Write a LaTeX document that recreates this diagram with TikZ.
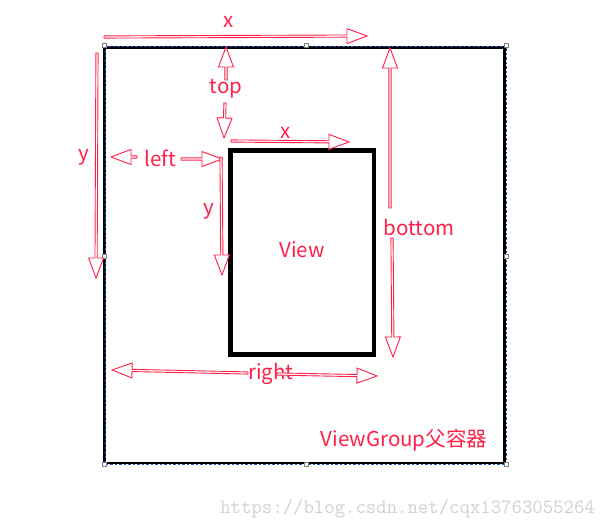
\documentclass[tikz,border=0pt]{standalone}
\usepackage{fontspec}
\newfontfamily\cjk{Noto Sans CJK SC}
\usetikzlibrary{calc}
\definecolor{arrred}{RGB}{255,32,72}
\definecolor{selblue}{RGB}{30,90,200}
\newcommand\blkarrow[2]{%
  \draw[blk] let \p1=($(#2)-(#1)$), \n1={atan2(\y1,\x1)}, \n2={veclen(\x1,\y1)} in
    [shift={(#1)},rotate=\n1]
    (0pt,-1.1pt) -- ({\n2-20},-1.1pt) -- ({\n2-20},-7.5pt) -- (\n2,0pt)
    -- ({\n2-20},7.5pt) -- ({\n2-20},1.1pt) -- (0pt,1.1pt) -- cycle;}
\begin{document}
\begin{tikzpicture}[x=1pt,y=-1pt,
  lbl/.style={text=arrred,font=\cjk\fontsize{20.5}{22}\selectfont,inner sep=0pt},
  blk/.style={draw=arrred,fill=white,line width=0.9pt,line join=miter},
  handle/.style={draw=gray,fill=white,line width=0.5pt,minimum size=4pt,inner sep=0pt}]
\useasboundingbox (0,0) rectangle (605,529);
% outer container
\draw[line width=2.2pt] (104.5,47.5) rectangle (504.5,463);
\draw[selblue,line width=0.8pt,dash pattern=on 2.5pt off 2pt] (105.8,46) rectangle (506.6,464.4);
\foreach \p/\q in {104/45.5,306/45.5,506.6/45.5,104/256,506.6/256,104/464.4,306/464.4,506.6/464.4}
  \node[handle] at (\p,\q) {};
% inner view
\draw[line width=4.5pt] (230.5,150.5) rectangle (374,354.5);
\node[lbl] (view) at (302,250) {View};
% labels
\node[lbl] (x1) at (229,22) {x};
\node[lbl] (y1) at (84,157) {y};
\node[lbl] (top) at (226,89) {top};
\node[lbl] (x2) at (286,133) {x};
\node[lbl] (left) at (160,158) {left};
\node[lbl] (y2) at (209,211) {y};
\node[lbl] (bottom) at (419,227) {bottom};
\node[lbl] (right) at (271,374) {right};
\node[lbl] (vg) at (404,440) {ViewGroup父容器};
\node[text=black!18,font=\ttfamily\fontsize{20.2}{22}\selectfont,inner sep=0pt,anchor=east] (wm) at (595,509) {https://blog.csdn.net/cqx13763055264};
% arrow endpoints
\coordinate (x1s) at (104,37); \coordinate (x1e) at (367,36);
\coordinate (y1s) at (97,53); \coordinate (y1e) at (96,278);
\coordinate (tops1) at (226,80); \coordinate (topu) at (226,47);
\coordinate (tops2) at (225,103); \coordinate (topd) at (224,138);
\coordinate (x2s) at (231,141); \coordinate (x2e) at (349,142);
\coordinate (lefts1) at (137,157); \coordinate (leftl) at (111,157);
\coordinate (lefts2) at (181,159); \coordinate (leftr) at (222,159);
\coordinate (y2s) at (221,157); \coordinate (y2e) at (222,275);
\coordinate (bots1) at (390,208); \coordinate (botu) at (390,48);
\coordinate (bots2) at (392,238); \coordinate (botd) at (393,357);
\coordinate (rights1) at (248,373); \coordinate (rightl) at (112,370);
\coordinate (rights2) at (277,374); \coordinate (rightr) at (377,376);
% arrows
\blkarrow{x1s}{x1e}
\blkarrow{y1s}{y1e}
\blkarrow{tops1}{topu}
\blkarrow{tops2}{topd}
\blkarrow{x2s}{x2e}
\blkarrow{lefts1}{leftl}
\blkarrow{lefts2}{leftr}
\blkarrow{y2s}{y2e}
\blkarrow{bots1}{botu}
\blkarrow{bots2}{botd}
\blkarrow{rights1}{rightl}
\blkarrow{rights2}{rightr}
\end{tikzpicture}
\end{document}
